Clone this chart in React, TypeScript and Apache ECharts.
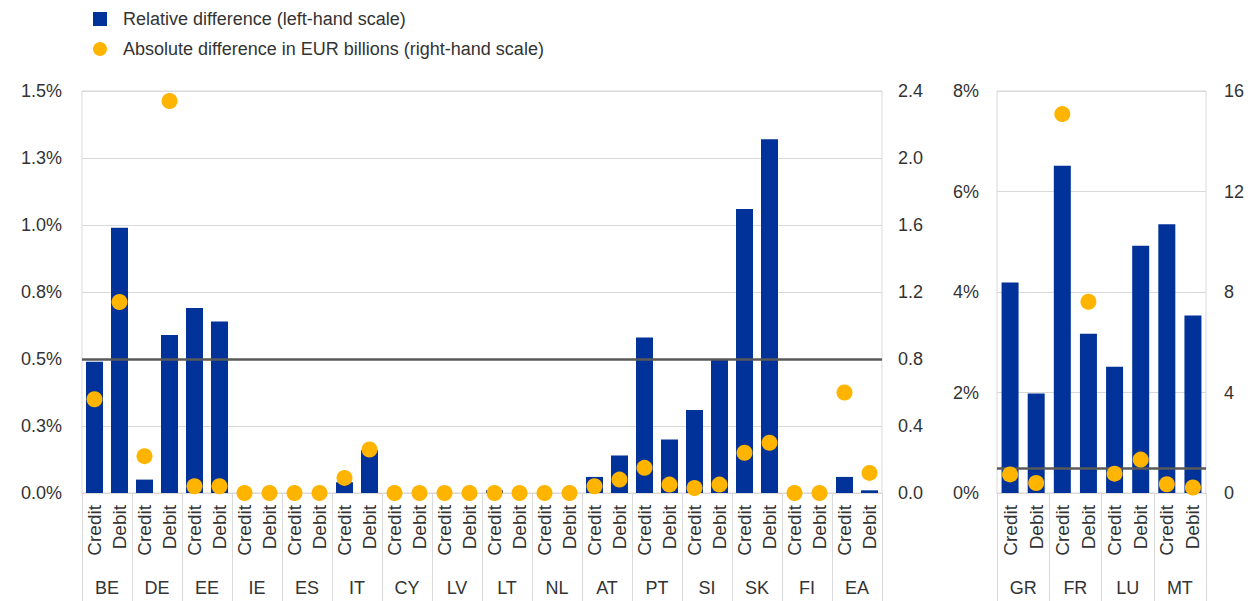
import React, { useEffect, useRef } from "react";
import * as echarts from "echarts";

// ---- Data ----
const countriesLeft = ["BE", "DE", "EE", "IE", "ES", "IT", "CY", "LV", "LT", "NL", "AT", "PT", "SI", "SK", "FI", "EA"];
const countriesRight = ["GR", "FR", "LU", "MT"];
const sides = ["Credit", "Debit"];

// Relative difference, % (left-hand scale), ordered Credit, Debit per country
const relLeft = [
  0.49, 0.99, 0.05, 0.59, 0.69, 0.64, 0, 0, 0, 0, 0.04, 0.16, 0, 0, 0, 0,
  0.01, 0, 0, 0, 0.06, 0.14, 0.58, 0.2, 0.31, 0.5, 1.06, 1.32, 0, 0, 0.06, 0.01,
];
// Absolute difference, EUR billions (right-hand scale)
const absLeft = [
  0.56, 1.14, 0.22, 2.34, 0.04, 0.04, 0, 0, 0, 0, 0.09, 0.26, 0, 0, 0, 0,
  0, 0, 0, 0, 0.04, 0.08, 0.15, 0.05, 0.03, 0.05, 0.24, 0.3, 0, 0, 0.6, 0.12,
];
const relRight = [4.19, 1.98, 6.51, 3.17, 2.51, 4.92, 5.35, 3.53];
const absRight = [0.74, 0.4, 15.08, 7.61, 0.77, 1.33, 0.35, 0.22];

const threshold = 0.5;

// Tick labels
const leftTicksA = ["0.0%", "0.3%", "0.5%", "0.8%", "1.0%", "1.3%", "1.5%"];
const rightTicksA = ["0.0", "0.4", "0.8", "1.2", "1.6", "2.0", "2.4"];
const leftTicksB = ["0%", "2%", "4%", "6%", "8%"];
const rightTicksB = ["0", "4", "8", "12", "16"];

const LEGEND_REL = "Relative difference (left-hand scale)";
const LEGEND_ABS = "Absolute difference in EUR billions (right-hand scale)";

const BLUE = "#003299";
const YELLOW = "#FFB400";
const GRID_LINE = "#d9d9d9";
const TEXT = "#333333";
const FONT = "Liberation Sans, Arial, sans-serif";

const catsLeft = countriesLeft.flatMap(() => sides);
const catsRight = countriesRight.flatMap(() => sides);

function tickFormatter(labels: string[], interval: number) {
  return (v: number) => labels[Math.round(v / interval)] ?? "";
}

export default function App() {
  const ref = useRef<HTMLDivElement>(null);

  useEffect(() => {
    if (!ref.current) return;
    const chart = echarts.init(ref.current, undefined, { renderer: "svg" });

    const labelStyle = { color: TEXT, fontSize: 18, fontFamily: FONT };

    const sideAxis = (gridIndex: number, data: string[]) => ({
      type: "category",
      gridIndex,
      position: "bottom",
      data,
      axisLine: { show: true, lineStyle: { color: GRID_LINE, width: 1 } },
      axisTick: { show: false },
      axisLabel: { ...labelStyle, fontSize: 19, rotate: 90, margin: 12, interval: 0 },
      splitLine: { show: false },
    });
    const countryAxis = (gridIndex: number, data: string[]) => ({
      type: "category",
      gridIndex,
      position: "bottom",
      offset: 0,
      data,
      axisLine: { show: false },
      axisTick: { show: true, length: 108, lineStyle: { color: GRID_LINE, width: 1 } },
      axisLabel: { ...labelStyle, margin: 86, interval: 0 },
      splitLine: { show: false },
    });

    const valueAxis = (
      gridIndex: number,
      position: string,
      max: number,
      interval: number,
      labels: string[],
      split: boolean,
      margin: number
    ) => ({
      type: "value",
      gridIndex,
      position,
      min: 0,
      max,
      interval,
      axisLine: { show: false },
      axisTick: { show: false },
      splitLine: { show: split, lineStyle: { color: GRID_LINE, width: 1 } },
      axisLabel: { ...labelStyle, margin, formatter: tickFormatter(labels, interval) },
    });

    const markLine = {
      silent: true,
      symbol: ["none", "none"],
      label: { show: false },
      lineStyle: { color: "#5a5a5a", width: 2.5, type: "solid" },
      data: [{ yAxis: threshold }],
      z: 3,
    };

    chart.setOption({
      animation: false,
      backgroundColor: "#ffffff",
      textStyle: { fontFamily: FONT },
      legend: {
        orient: "vertical",
        left: 88,
        top: 5,
        itemWidth: 14,
        itemHeight: 14,
        itemGap: 12,
        selectedMode: false,
        textStyle: { ...labelStyle, padding: [0, 0, 0, 11] },
        data: [
          { name: LEGEND_REL, icon: "rect" },
          { name: LEGEND_ABS, icon: "circle" },
        ],
      },
      grid: [
        {
          left: 82, top: 91, width: 800, height: 402,
          show: true, borderColor: GRID_LINE, borderWidth: 1,
          containLabel: false, outerBoundsMode: "none",
        },
        {
          left: 997, top: 91, width: 209, height: 402,
          show: true, borderColor: GRID_LINE, borderWidth: 1,
          containLabel: false, outerBoundsMode: "none",
        },
      ],
      xAxis: [
        sideAxis(0, catsLeft),
        countryAxis(0, countriesLeft),
        sideAxis(1, catsRight),
        countryAxis(1, countriesRight),
      ],
      yAxis: [
        valueAxis(0, "left", 1.5, 0.25, leftTicksA, true, 20),
        valueAxis(0, "right", 2.4, 0.4, rightTicksA, false, 16),
        valueAxis(1, "left", 8, 2, leftTicksB, true, 18),
        valueAxis(1, "right", 16, 4, rightTicksB, false, 18),
      ],
      series: [
        {
          name: LEGEND_REL,
          type: "bar",
          xAxisIndex: 0,
          yAxisIndex: 0,
          data: relLeft,
          barWidth: 17,
          itemStyle: { color: BLUE },
          z: 2,
          markLine,
        },
        {
          name: LEGEND_ABS,
          type: "scatter",
          xAxisIndex: 0,
          yAxisIndex: 1,
          data: absLeft,
          symbol: "circle",
          symbolSize: 16,
          itemStyle: { color: YELLOW, opacity: 1 },
          z: 4,
        },
        {
          name: LEGEND_REL,
          type: "bar",
          xAxisIndex: 2,
          yAxisIndex: 2,
          data: relRight,
          barWidth: 17,
          itemStyle: { color: BLUE },
          z: 2,
          markLine,
        },
        {
          name: LEGEND_ABS,
          type: "scatter",
          xAxisIndex: 2,
          yAxisIndex: 3,
          data: absRight,
          symbol: "circle",
          symbolSize: 16,
          itemStyle: { color: YELLOW, opacity: 1 },
          z: 4,
        },
      ],
    });

    return () => chart.dispose();
  }, []);

  return (
    <div
      ref={ref}
      style={{ position: "fixed", left: 0, top: 0, width: 1254, height: 601 }}
    />
  );
}
